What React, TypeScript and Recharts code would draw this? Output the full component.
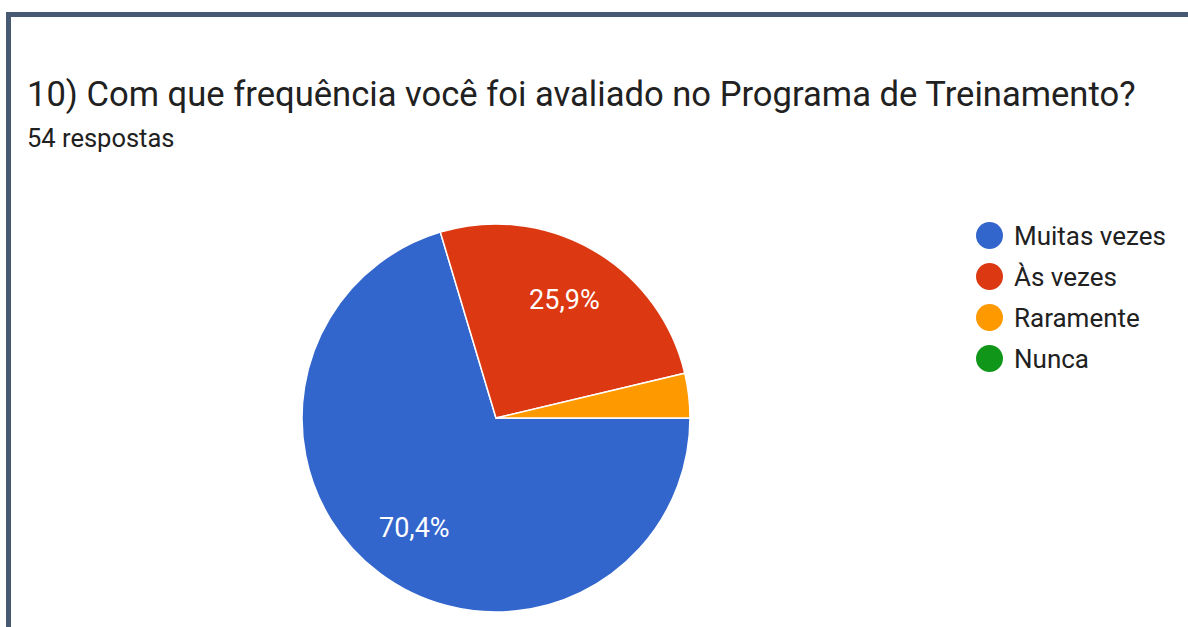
import React from "react";
import { PieChart, Pie, Cell, Legend } from "recharts";

const categories = ["Muitas vezes", "Às vezes", "Raramente", "Nunca"];
const counts = [38, 14, 2, 0];
const colors = ["#3366cc", "#dc3912", "#ff9900", "#109618"];
const title = "10) Com que frequência você foi avaliado no Programa de Treinamento?";
const subtitle = "54 respostas";

const data = categories.map((name, i) => ({ name, value: counts[i] }));

const RAD = Math.PI / 180;

const renderLabel = (props: any) => {
  const { cx, cy, midAngle, outerRadius, percent } = props;
  if (percent < 0.05) return null;
  const r = outerRadius * 0.705;
  const x = cx + r * Math.cos(-midAngle * RAD);
  const y = cy + r * Math.sin(-midAngle * RAD);
  const txt = (percent * 100).toFixed(1).replace(".", ",") + "%";
  return (
    <text
      x={x}
      y={y}
      fill="#ffffff"
      textAnchor="middle"
      dominantBaseline="central"
      fontSize={27}
      fontFamily="Roboto, Arial, sans-serif"
    >
      {txt}
    </text>
  );
};

const renderLegend = () => (
  <div style={{ fontFamily: "Roboto, Arial, sans-serif" }}>
    {categories.map((c, i) => (
      <div
        key={c}
        style={{ display: "flex", alignItems: "center", height: 41 }}
      >
        <svg width={27} height={27} style={{ marginRight: 11 }}>
          <circle cx={13.5} cy={13.5} r={13.5} fill={colors[i]} />
        </svg>
        <span style={{ fontSize: 26, color: "#212121" }}>{c}</span>
      </div>
    ))}
  </div>
);

export default function App() {
  return (
    <div
      style={{
        position: "fixed",
        left: 0,
        top: 0,
        width: 1188,
        height: 627,
        background: "#ffffff",
        overflow: "hidden",
        fontFamily: "Roboto, Arial, sans-serif",
      }}
    >
      <div
        style={{
          position: "absolute",
          left: 6,
          top: 12,
          width: 1400,
          height: 900,
          border: "5px solid #475a72",
          boxSizing: "border-box",
        }}
      />
      <div
        style={{
          position: "absolute",
          left: 27,
          top: 74,
          fontSize: 34.6,
          color: "#212121",
          whiteSpace: "nowrap",
          lineHeight: "40px",
        }}
      >
        {title}
      </div>
      <div
        style={{
          position: "absolute",
          left: 27,
          top: 124,
          fontSize: 25.5,
          color: "#212121",
          whiteSpace: "nowrap",
          lineHeight: "28px",
        }}
      >
        {subtitle}
      </div>
      <div style={{ position: "absolute", left: 0, top: 0 }}>
        <PieChart width={1188} height={627}>
          <Pie
            data={data}
            dataKey="value"
            nameKey="name"
            cx={491}
            cy={413}
            outerRadius={194}
            startAngle={0}
            endAngle={-360}
            stroke="#ffffff"
            strokeWidth={1.5}
            label={renderLabel}
            labelLine={false}
            isAnimationActive={false}
          >
            {data.map((d, i) => (
              <Cell key={d.name} fill={colors[i]} />
            ))}
          </Pie>
          <Legend
            content={renderLegend}
            wrapperStyle={{ position: "absolute", left: 976, top: 215, width: 210 }}
          />
        </PieChart>
      </div>
    </div>
  );
}
